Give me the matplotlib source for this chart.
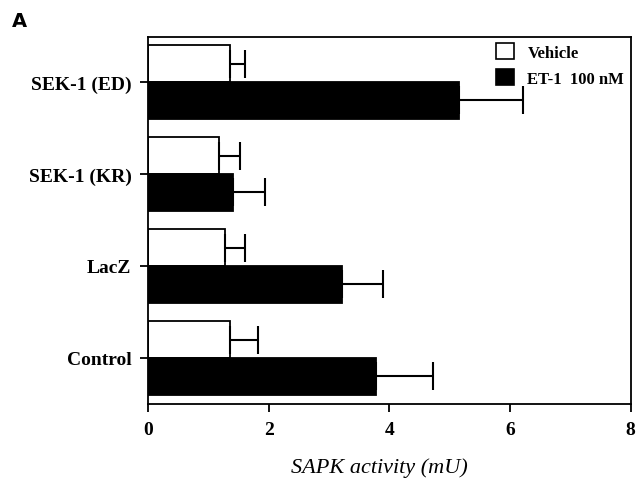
import matplotlib
matplotlib.use("Agg")
import matplotlib.pyplot as plt
import numpy as np
from matplotlib.patches import Patch

categories = ["SEK-1 (ED)", "SEK-1 (KR)", "LacZ", "Control"]
vehicle = [1.36, 1.17, 1.28, 1.36]
vehicle_err = [0.24, 0.36, 0.33, 0.46]
et1 = [5.16, 1.40, 3.21, 3.77]
et1_err = [1.06, 0.54, 0.68, 0.95]
xticks = [0, 2, 4, 6, 8]
series_names = ["Vehicle", "ET-1  100 nM"]

fig = plt.figure(figsize=(6.41, 4.85), dpi=100)
ax = fig.add_axes([0.231, 0.165, 0.753, 0.757])

y = np.arange(len(categories))[::-1].astype(float)
h = 0.40
serif = "Liberation Serif"
ekw = dict(ecolor="black", elinewidth=1.5, capsize=10, capthick=1.5)

ax.barh(y + h / 2, vehicle, height=h, color="white", edgecolor="black", linewidth=1.3,
        xerr=[np.zeros(len(vehicle)), vehicle_err], error_kw=ekw, label=series_names[0])
ax.barh(y - h / 2, et1, height=h, color="black", edgecolor="black", linewidth=1.3,
        xerr=[np.zeros(len(et1)), et1_err], error_kw=ekw, label=series_names[1])

ax.set_xlim(0, 8)
ax.set_ylim(-0.5, 3.49)
ax.set_xticks(xticks)
ax.set_xticklabels([str(v) for v in xticks], fontfamily=serif, fontweight="bold", fontsize=14)
ax.set_yticks(y)
ax.set_yticklabels(categories, fontfamily=serif, fontweight="bold", fontsize=14)
ax.tick_params(axis="both", direction="out", length=6, width=1.3)
ax.tick_params(axis="y", pad=6)
ax.tick_params(axis="x", pad=6)
for s in ax.spines.values():
    s.set_linewidth(1.3)

ax.set_xlabel("SAPK activity (mU)", fontfamily=serif, fontstyle="italic", fontsize=16, va="center")
ax.xaxis.set_label_coords(0.48, -0.172)

handles = [Patch(facecolor="white", edgecolor="black", linewidth=1.2),
           Patch(facecolor="black", edgecolor="black", linewidth=1.2)]
leg = ax.legend(handles, series_names, loc="upper right", frameon=False,
                prop=dict(family=serif, weight="bold", size=12),
                handlelength=1.1, handleheight=1.1, handletextpad=0.8, labelspacing=0.5,
                borderaxespad=0.1, borderpad=0.3)

fig.text(0.018, 0.955, "A", fontfamily="DejaVu Sans", fontweight="bold", fontsize=14, va="center")

fig.savefig("out.png", dpi=100)
